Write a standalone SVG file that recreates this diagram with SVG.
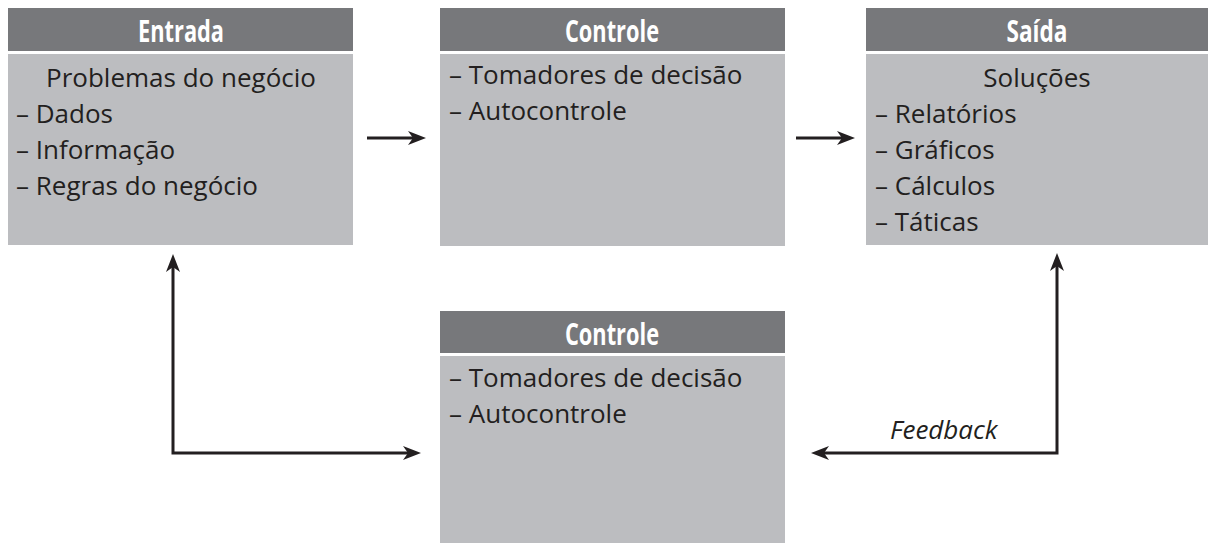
<svg xmlns="http://www.w3.org/2000/svg" width="1208" height="545" viewBox="0 0 1208 545">
  <style>
    .hdr { fill: #77787b; }
    .body { fill: #bcbdc0; }
    .title { font-family: "Open Sans", "Noto Sans", sans-serif; font-weight: bold; font-size: 30px; fill: #ffffff; text-anchor: middle; }
    .item { font-family: "Open Sans", "Noto Sans", sans-serif; font-size: 26px; fill: #231f20; }
    .center { text-anchor: middle; }
    .label { font-family: "Open Sans", "Noto Sans", sans-serif; font-style: italic; font-size: 26px; fill: #231f20; }
    .conn { fill: none; stroke: #231f20; stroke-width: 3; }
  </style>
  <defs>
    <marker id="arrow" markerUnits="userSpaceOnUse" markerWidth="20" markerHeight="16" refX="5" refY="8" orient="auto-start-reverse">
      <path d="M0,1 L18,8 L0,15 L5,8 Z" fill="#231f20"/>
    </marker>
  </defs>

  <rect width="1208" height="545" fill="#ffffff"/>

  <!-- Entrada -->
  <g id="entrada">
    <rect class="hdr" x="8" y="8" width="345" height="43"/>
    <rect class="body" x="8" y="54" width="345" height="191"/>
    <text class="title" x="181" y="42" textLength="86" lengthAdjust="spacingAndGlyphs">Entrada</text>
    <text class="item center" x="181" y="87">Problemas do negócio</text>
    <text class="item" x="16" y="123">– Dados</text>
    <text class="item" x="16" y="159">– Informação</text>
    <text class="item" x="16" y="195">– Regras do negócio</text>
  </g>

  <!-- Controle (top) -->
  <g id="controle-top">
    <rect class="hdr" x="440" y="8" width="345" height="43"/>
    <rect class="body" x="440" y="54" width="345" height="192"/>
    <text class="title" x="612" y="42" textLength="94" lengthAdjust="spacingAndGlyphs">Controle</text>
    <text class="item" x="449" y="84">– Tomadores de decisão</text>
    <text class="item" x="449" y="120">– Autocontrole</text>
  </g>

  <!-- Saída -->
  <g id="saida">
    <rect class="hdr" x="866" y="8" width="342" height="43"/>
    <rect class="body" x="866" y="54" width="342" height="191"/>
    <text class="title" x="1037" y="42" textLength="61" lengthAdjust="spacingAndGlyphs">Saída</text>
    <text class="item center" x="1037" y="87">Soluções</text>
    <text class="item" x="875" y="123">– Relatórios</text>
    <text class="item" x="875" y="159">– Gráficos</text>
    <text class="item" x="875" y="195">– Cálculos</text>
    <text class="item" x="875" y="231">– Táticas</text>
  </g>

  <!-- Controle (bottom) -->
  <g id="controle-bottom">
    <rect class="hdr" x="440" y="311" width="345" height="42"/>
    <rect class="body" x="440" y="356" width="345" height="187"/>
    <text class="title" x="612" y="345" textLength="94" lengthAdjust="spacingAndGlyphs">Controle</text>
    <text class="item" x="449" y="387">– Tomadores de decisão</text>
    <text class="item" x="449" y="423">– Autocontrole</text>
  </g>

  <!-- Connectors -->
  <g id="connectors">
    <path class="conn" d="M367,138 H413" marker-end="url(#arrow)"/>
    <path class="conn" d="M796,138 H842" marker-end="url(#arrow)"/>
    <path class="conn" d="M408,453 H173 V267" marker-start="url(#arrow)" marker-end="url(#arrow)"/>
    <path class="conn" d="M824,453 H1057 V266" marker-start="url(#arrow)" marker-end="url(#arrow)"/>
    <text class="label" x="890" y="439">Feedback</text>
  </g>
</svg>
